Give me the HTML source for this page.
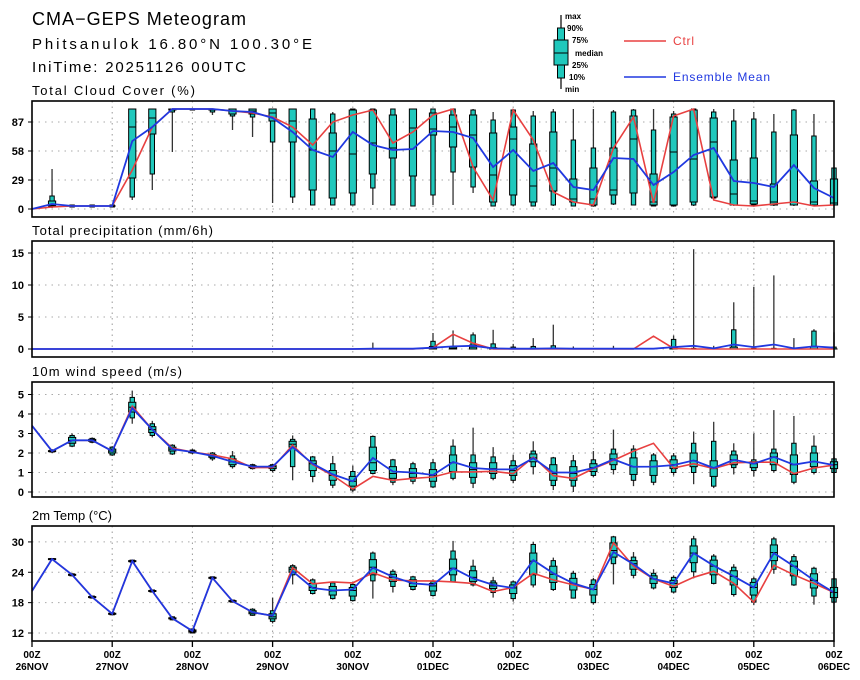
<!DOCTYPE html>
<html><head><meta charset="utf-8"><style>
html,body{margin:0;padding:0;background:#fff;}
svg{display:block;font-family:"Liberation Sans",sans-serif;}
</style></head><body>
<svg id="chart" width="860" height="680" viewBox="0 0 860 680" xmlns="http://www.w3.org/2000/svg">
<text x="32" y="25" font-size="18" fill="#000" textLength="214" lengthAdjust="spacing">CMA−GEPS Meteogram</text>
<text x="32" y="49" font-size="15" fill="#000" textLength="280" lengthAdjust="spacing">Phitsanulok 16.80°N 100.30°E</text>
<text x="32" y="72" font-size="15" fill="#000" textLength="214" lengthAdjust="spacing">IniTime: 20251126 00UTC</text>
<g id="legend">
 <line x1="561" y1="15" x2="561" y2="89" stroke="#000" stroke-width="1.2"/>
 <rect x="557.5" y="28" width="7" height="50" fill="#20c8bc" stroke="#000" stroke-width="1"/>
 <rect x="554" y="40" width="14" height="25" fill="#20c8bc" stroke="#000" stroke-width="1"/>
 <line x1="554" y1="53" x2="568" y2="53" stroke="#000" stroke-width="1"/>
 <g font-size="8" font-weight="bold" fill="#000">
  <text x="565" y="19">max</text><text x="567" y="31">90%</text><text x="572" y="43">75%</text>
  <text x="575" y="56">median</text><text x="572" y="68">25%</text><text x="569" y="80">10%</text><text x="565" y="92">min</text>
 </g>
 <line x1="624" y1="41" x2="666" y2="41" stroke="#e84040" stroke-width="1.5"/>
 <text x="673" y="45" font-size="12" fill="#e84040" textLength="21" lengthAdjust="spacing">Ctrl</text>
 <line x1="624" y1="77" x2="666" y2="77" stroke="#2038e0" stroke-width="1.5"/>
 <text x="673" y="81" font-size="12" fill="#2038e0" textLength="97" lengthAdjust="spacing">Ensemble Mean</text>
</g>
</svg>
<script>
// ---------- data ----------
const dayLabels = ["26NOV","27NOV","28NOV","29NOV","30NOV","01DEC","02DEC","03DEC","04DEC","05DEC","06DEC"];
// box tuples: [min, p10, p25, median, p75, p90, max]
const cloudCtrl = [0,2,3,3,3,39,82,100,100,100,98,96,92,82,64,87,94,99,66,77,94,100,42,9,99,69,17,7,4,61,92,6,93,100,9,4,3,5,7,3,4];
const cloudMean = [0,5,3,3,3,68,82,100,100,100,98,97,91,77,59,52,77,64,59,60,78,77,71,42,59,38,46,22,19,51,50,24,37,54,61,28,26,22,44,21,11];
const cloudBox = [null,[1,2,3,4,8,13,40],[2,2,3,3,3,4,4],[2,2,3,3,3,4,4],[2,2,3,3,3,4,4],[9,12,31,82,100,100,100],[19,35,75,91,100,100,100],[57,97,99,100,100,100,100],[99,99,100,100,100,100,100],[94,97,99,100,100,100,100],[79,93,95,98,100,100,100],[72,92,95,98,100,100,100],[6,67,88,96,100,100,100],[6,12,67,88,100,100,100],[4,4,19,59,90,100,100],[4,4,11,58,76,95,97],[4,4,16,55,99,100,100],[4,21,35,66,99,100,100],[4,4,51,61,94,100,100],[3,3,33,81,100,100,100],[4,14,74,80,96,100,100],[4,37,62,82,94,100,100],[16,22,42,74,94,99,100],[3,3,7,34,76,89,97],[3,4,14,70,82,99,100],[3,3,7,23,65,93,98],[3,4,18,41,77,97,100],[3,3,7,10,30,69,100],[3,3,4,10,41,61,100],[4,5,14,19,61,97,99],[4,4,16,70,93,99,100],[3,3,4,7,35,79,100],[3,3,4,57,92,95,98],[3,4,7,50,99,100,100],[10,11,12,67,91,97,100],[3,4,4,15,49,88,100],[3,4,5,8,51,90,97],[3,4,4,7,25,77,95],[3,4,4,7,74,99,100],[3,4,4,7,28,73,95],[3,4,4,6,30,41,41]];
const cloudTicks = [0,29,58,87];

const precipCtrl = [0,0,0,0,0,0,0,0,0,0,0,0,0,0,0,0,0,0,0,0,0.2,2.3,0.9,0,0,0,0,0,0,0,0,2.0,0.1,0,0,0,0,0,0,0,0];
const precipMean = [0,0,0,0,0,0,0,0,0,0,0,0,0,0,0,0,0,0.05,0.05,0.05,0.2,0.4,0.5,0.1,0.05,0.05,0.1,0.05,0.05,0.05,0.05,0.05,0.3,0.5,0.1,0.7,0.3,0.7,0.1,0.4,0.2];
const precipBox = [null,null,null,null,null,null,null,null,null,null,null,null,null,null,null,null,null,[0,0,0,0,0,0,1.0],null,null,[0,0,0,0,0.4,1.2,2.5],[0,0,0,0.1,0.3,0.4,2.9],[0,0,0,0.3,0.6,2.2,2.6],[0,0,0,0,0.2,0.8,3.0],[0,0,0,0,0.1,0.3,0.8],[0,0,0,0,0.1,0.4,1.7],[0,0,0,0,0.1,0.5,3.8],[0,0,0,0,0,0,0.4],null,[0,0,0,0,0,0,0.5],null,null,[0,0,0,0,0.2,1.5,2.1],[0,0,0,0,0,0.1,15.6],[0,0,0,0,0,0,0.5],[0,0,0,0,0.3,3.0,7.3],[0,0,0,0,0,0.1,9.7],[0,0,0,0,0,0.1,11.5],[0,0,0,0,0,0,1.7],[0,0,0,0,0.4,2.8,3.1],[0,0,0,0,0,0.3,2.6]];
const precipTicks = [0,5,10,15];

const windCtrl = [3.4,2.1,2.65,2.65,2.1,4.4,3.2,2.25,2.05,1.9,1.7,1.25,1.25,2.4,1.4,0.85,0.15,0.8,0.6,0.7,0.77,1.03,1.03,1.06,0.94,1.79,0.84,0.7,1.2,1.62,2.1,2.5,1.23,1.45,1.2,1.5,1.53,1.53,0.94,1.23,1.38];
const windMean = [3.4,2.1,2.65,2.65,2.1,4.3,3.2,2.2,2.05,1.85,1.55,1.3,1.3,2.3,1.45,0.9,0.55,1.75,1.05,1.0,0.87,1.54,1.23,1.16,1.16,1.74,1.0,1.0,1.23,1.67,1.29,1.3,1.38,1.62,1.23,1.65,1.45,1.8,1.4,1.57,1.38];
const windBox = [null,[2.0,2.05,2.07,2.1,2.12,2.15,2.2],[2.3,2.35,2.5,2.65,2.8,2.9,3.0],[2.5,2.55,2.6,2.65,2.7,2.75,2.8],[1.85,1.9,2.0,2.1,2.2,2.3,2.35],[3.5,3.8,4.1,4.35,4.6,4.85,5.2],[2.8,2.9,3.05,3.2,3.35,3.5,3.65],[1.9,1.95,2.1,2.2,2.3,2.4,2.45],[1.95,2.0,2.02,2.05,2.1,2.15,2.2],[1.6,1.7,1.78,1.85,1.92,2.0,2.05],[1.2,1.3,1.4,1.55,1.7,1.85,2.1],[1.15,1.2,1.25,1.3,1.35,1.4,1.45],[1.0,1.1,1.2,1.3,1.35,1.4,1.45],[0.6,1.3,2.3,2.45,2.6,2.7,2.9],[0.5,0.8,1.1,1.45,1.6,1.8,1.85],[0.2,0.35,0.6,0.85,1.1,1.45,1.85],[0.0,0.1,0.3,0.55,0.8,1.05,1.35],[0.9,0.95,1.1,1.5,2.3,2.85,2.9],[0.35,0.5,0.7,0.95,1.3,1.65,1.7],[0.4,0.55,0.75,0.95,1.2,1.45,1.55],[0.2,0.26,0.55,0.85,1.15,1.5,1.7],[0.6,0.7,1.05,1.5,1.9,2.35,2.7],[0.2,0.45,0.75,1.15,1.5,1.9,3.3],[0.6,0.7,0.95,1.2,1.5,1.8,2.3],[0.45,0.6,0.85,1.1,1.35,1.6,1.9],[0.9,1.3,1.55,1.75,1.95,2.1,2.6],[0.1,0.33,0.6,0.95,1.4,1.75,1.8],[0.0,0.3,0.6,0.95,1.3,1.6,1.9],[0.75,0.85,1.05,1.25,1.45,1.65,2.1],[0.9,1.15,1.4,1.7,1.95,2.2,3.2],[0.3,0.6,0.9,1.3,1.75,2.2,2.4],[0.35,0.5,0.85,1.3,1.6,1.9,2.0],[0.85,1.0,1.2,1.4,1.65,1.85,2.0],[0.4,1.0,1.3,1.6,2.0,2.5,3.1],[0.2,0.3,0.8,1.2,1.6,2.6,3.6],[0.9,1.25,1.4,1.65,1.9,2.1,2.5],[0.8,1.1,1.25,1.45,1.55,1.65,3.0],[1.0,1.1,1.4,1.8,2.0,2.2,4.2],[0.4,0.5,0.9,1.4,1.9,2.5,3.9],[0.9,1.0,1.3,1.55,2.0,2.35,2.9],[0.95,1.0,1.2,1.4,1.55,1.7,1.8]];
const windTicks = [0,1,2,3,4,5];

const tempCtrl = [20.3,26.6,23.5,19.1,15.8,26.2,20.3,14.9,12.4,22.9,18.3,16.1,15.4,24.9,21.7,22.1,21.9,23.9,22.5,22.3,22.3,22.1,21.8,20.2,21.0,23.8,22.5,21.5,20.6,29.8,25.2,22.7,21.2,23.0,24.2,21.8,18.1,25.4,23.5,21.8,20.0];
const tempMean = [20.3,26.6,23.5,19.1,15.8,26.2,20.3,14.9,12.4,22.9,18.3,16.1,15.4,24.2,20.9,20.4,20.6,24.9,23.1,21.8,21.5,24.8,22.8,21.5,20.9,26.4,23.8,21.8,20.6,28.0,25.6,22.7,21.8,27.8,25.3,23.2,21.0,27.8,25.2,22.4,20.0];
const tempBox = [null,[26.4,26.5,26.5,26.6,26.7,26.7,26.8],[23.2,23.3,23.4,23.5,23.6,23.7,23.8],[18.8,18.9,19.0,19.1,19.2,19.3,19.4],[15.5,15.6,15.7,15.8,15.9,16.0,16.1],[25.9,26.0,26.1,26.2,26.3,26.4,26.5],[20.0,20.1,20.2,20.3,20.4,20.5,20.6],[14.5,14.6,14.8,14.9,15.0,15.2,15.3],[11.9,12.0,12.2,12.4,12.6,12.8,12.9],[22.6,22.7,22.8,22.9,23.0,23.1,23.2],[18.0,18.1,18.2,18.3,18.4,18.5,18.6],[15.4,15.5,15.8,16.1,16.4,16.7,16.9],[13.9,14.3,14.8,15.2,15.8,16.4,19.0],[21.6,23.5,24.0,24.6,25.0,25.3,25.6],[19.6,19.8,20.4,21.0,21.8,22.5,22.8],[18.6,18.8,19.5,20.3,21.2,21.9,22.1],[18.2,18.4,19.3,20.4,21.0,21.6,21.8],[18.8,22.3,23.5,25.0,26.5,27.8,28.1],[20.0,21.2,22.2,23.0,23.6,24.2,24.6],[20.4,20.6,21.2,21.8,22.5,23.1,23.3],[19.2,19.4,20.3,21.3,21.8,22.2,22.6],[22.0,22.1,23.5,24.8,26.6,28.2,30.2],[21.2,21.5,22.2,23.0,24.3,25.2,26.5],[19.0,20.0,20.8,21.3,21.9,22.3,23.1],[18.2,18.8,19.8,20.9,21.5,22.1,22.4],[21.0,21.5,23.5,26.2,27.8,29.5,30.0],[20.3,20.6,22.0,23.6,25.2,26.3,26.9],[18.8,18.9,20.5,21.8,22.8,23.8,24.3],[17.6,18.0,19.5,20.6,21.6,22.5,22.9],[21.6,25.7,27.0,28.3,29.8,31.0,31.2],[22.8,23.4,24.6,25.7,26.3,27.0,28.0],[20.6,20.9,21.8,22.7,23.3,23.8,24.6],[19.8,20.1,21.0,21.8,22.4,23.0,23.4],[22.8,24.1,25.9,27.8,29.2,30.6,31.2],[21.6,21.8,23.5,25.2,26.4,27.2,27.6],[19.2,19.6,21.5,23.2,24.3,25.0,25.6],[17.5,18.1,19.5,21.0,22.0,22.7,23.1],[23.7,24.6,26.3,27.9,29.4,30.6,31.0],[21.3,21.5,23.3,25.2,26.2,27.1,27.6],[17.6,19.3,20.9,22.4,23.7,24.8,25.1],[17.8,18.1,19.0,20.0,21.0,22.7,22.9]];
const tempTicks = [12,18,24,30];

// ---------- drawing ----------
const NS = "http://www.w3.org/2000/svg";
const svg = document.getElementById("chart");
const X0 = 32, X1 = 834, NSTEP = 40;
function xAt(i){ return X0 + i*(X1 - X0)/NSTEP; }
function mk(tag, attrs, parent){
  const e = document.createElementNS(NS, tag);
  for (const k in attrs) e.setAttribute(k, attrs[k]);
  (parent||svg).appendChild(e);
  return e;
}
const BOXFILL = "#20c8bc";

function drawPanel(cfg){
  const g = mk("g", {});
  
  
  const yOf = v => cfg.yBase - (v - cfg.vBase) * cfg.scale;
  const t = mk("text", {x: 32, y: cfg.top - 6, "font-size": 13, fill: "#000", textLength: cfg.titleLen, lengthAdjust: "spacing"}, g);
  
  
  t.textContent = cfg.title;
  for (let d = 1; d < dayLabels.length - 1; d++){
    const gl = mk("line", {x1: xAt(d*4), x2: xAt(d*4), y1: cfg.top, y2: cfg.bot, stroke: "#999", "stroke-width": 1, "stroke-dasharray": "1.5,4"}, g);
    
    
  }
  cfg.ticks.forEach(v => {
    const y = yOf(v);
    const gl = mk("line", {x1: X0, x2: X1, y1: y, y2: y, stroke: "#aaa", "stroke-width": 1, "stroke-dasharray": "1.5,5"}, g);
    
    
    const tk = mk("line", {x1: X0 - 4, x2: X0, y1: y, y2: y, stroke: "#000", "stroke-width": 1}, g);
    
    
    const tl = mk("text", {x: 24, y: y + 4, "font-size": 11, "font-weight": "bold", "text-anchor": "end", fill: "#000"}, g);
    
    
    tl.textContent = v;
  });
  cfg.box.forEach((b, i) => {
    if (!b) return;
    const x = xAt(i);
    const bg = mk("g", {}, g);
    
    
    mk("line", {x1: x, x2: x, y1: yOf(b[0]), y2: yOf(b[6]), stroke: "#333", "stroke-width": 1.3}, bg);
    const h1 = yOf(b[1]) - yOf(b[5]);
    if (h1 > 0.3) mk("rect", {x: x - 2.2, y: yOf(b[5]), width: 4.4, height: h1, fill: BOXFILL, stroke: "#000", "stroke-width": 1}, bg);
    const h2 = yOf(b[2]) - yOf(b[4]);
    if (h2 > 0.3) mk("rect", {x: x - 3.6, y: yOf(b[4]), width: 7.2, height: h2, fill: BOXFILL, stroke: "#000", "stroke-width": 1}, bg);
    if (h1 > 0.3) mk("line", {x1: x - 3.6, x2: x + 3.6, y1: yOf(b[3]), y2: yOf(b[3]), stroke: "#000", "stroke-width": 1}, bg);
  });
  const lineOf = arr => arr.map((v, i) => xAt(i).toFixed(1) + "," + yOf(v).toFixed(1)).join(" ");
  const lc = mk("polyline", {points: lineOf(cfg.ctrl), fill: "none", stroke: "#e84040", "stroke-width": 1.6}, g);
  
  
  const lm = mk("polyline", {points: lineOf(cfg.mean), fill: "none", stroke: "#2038e0", "stroke-width": 1.8}, g);
  
  
  const fr = mk("rect", {x: X0, y: cfg.top, width: X1 - X0, height: cfg.bot - cfg.top, fill: "none", stroke: "#000", "stroke-width": 1.6}, g);
  
  
  return g;
}

drawPanel({name: "cloud-cover", title: "Total Cloud Cover (%)", titleLen: 163, top: 101, bot: 217, yBase: 209, vBase: 0, scale: 1.0, ticks: cloudTicks, box: cloudBox, ctrl: cloudCtrl, mean: cloudMean});
drawPanel({name: "precipitation", title: "Total precipitation (mm/6h)", titleLen: 181, top: 241, bot: 357, yBase: 349, vBase: 0, scale: 6.4, ticks: precipTicks, box: precipBox, ctrl: precipCtrl, mean: precipMean});
drawPanel({name: "wind-speed", title: "10m wind speed (m/s)", titleLen: 150, top: 382, bot: 497, yBase: 492, vBase: 0, scale: 19.5, ticks: windTicks, box: windBox, ctrl: windCtrl, mean: windMean});
drawPanel({name: "temperature", title: "2m Temp (°C)", titleLen: 80, top: 526, bot: 641, yBase: 633, vBase: 12, scale: 5.06, ticks: tempTicks, box: tempBox, ctrl: tempCtrl, mean: tempMean});

dayLabels.forEach((lab, d) => {
  const x = xAt(d*4);
  const tk = mk("line", {x1: x, x2: x, y1: 641, y2: 647, stroke: "#000", "stroke-width": 1.3});
  
  
  const t1 = mk("text", {x: x, y: 658, "font-size": 10, "font-weight": "bold", "text-anchor": "middle", fill: "#000"});
  
  
  t1.textContent = "00Z";
  const t2 = mk("text", {x: x, y: 670, "font-size": 10, "font-weight": "bold", "text-anchor": "middle", fill: "#000"});
  
  
  t2.textContent = lab;
});
</script>
</body></html>
